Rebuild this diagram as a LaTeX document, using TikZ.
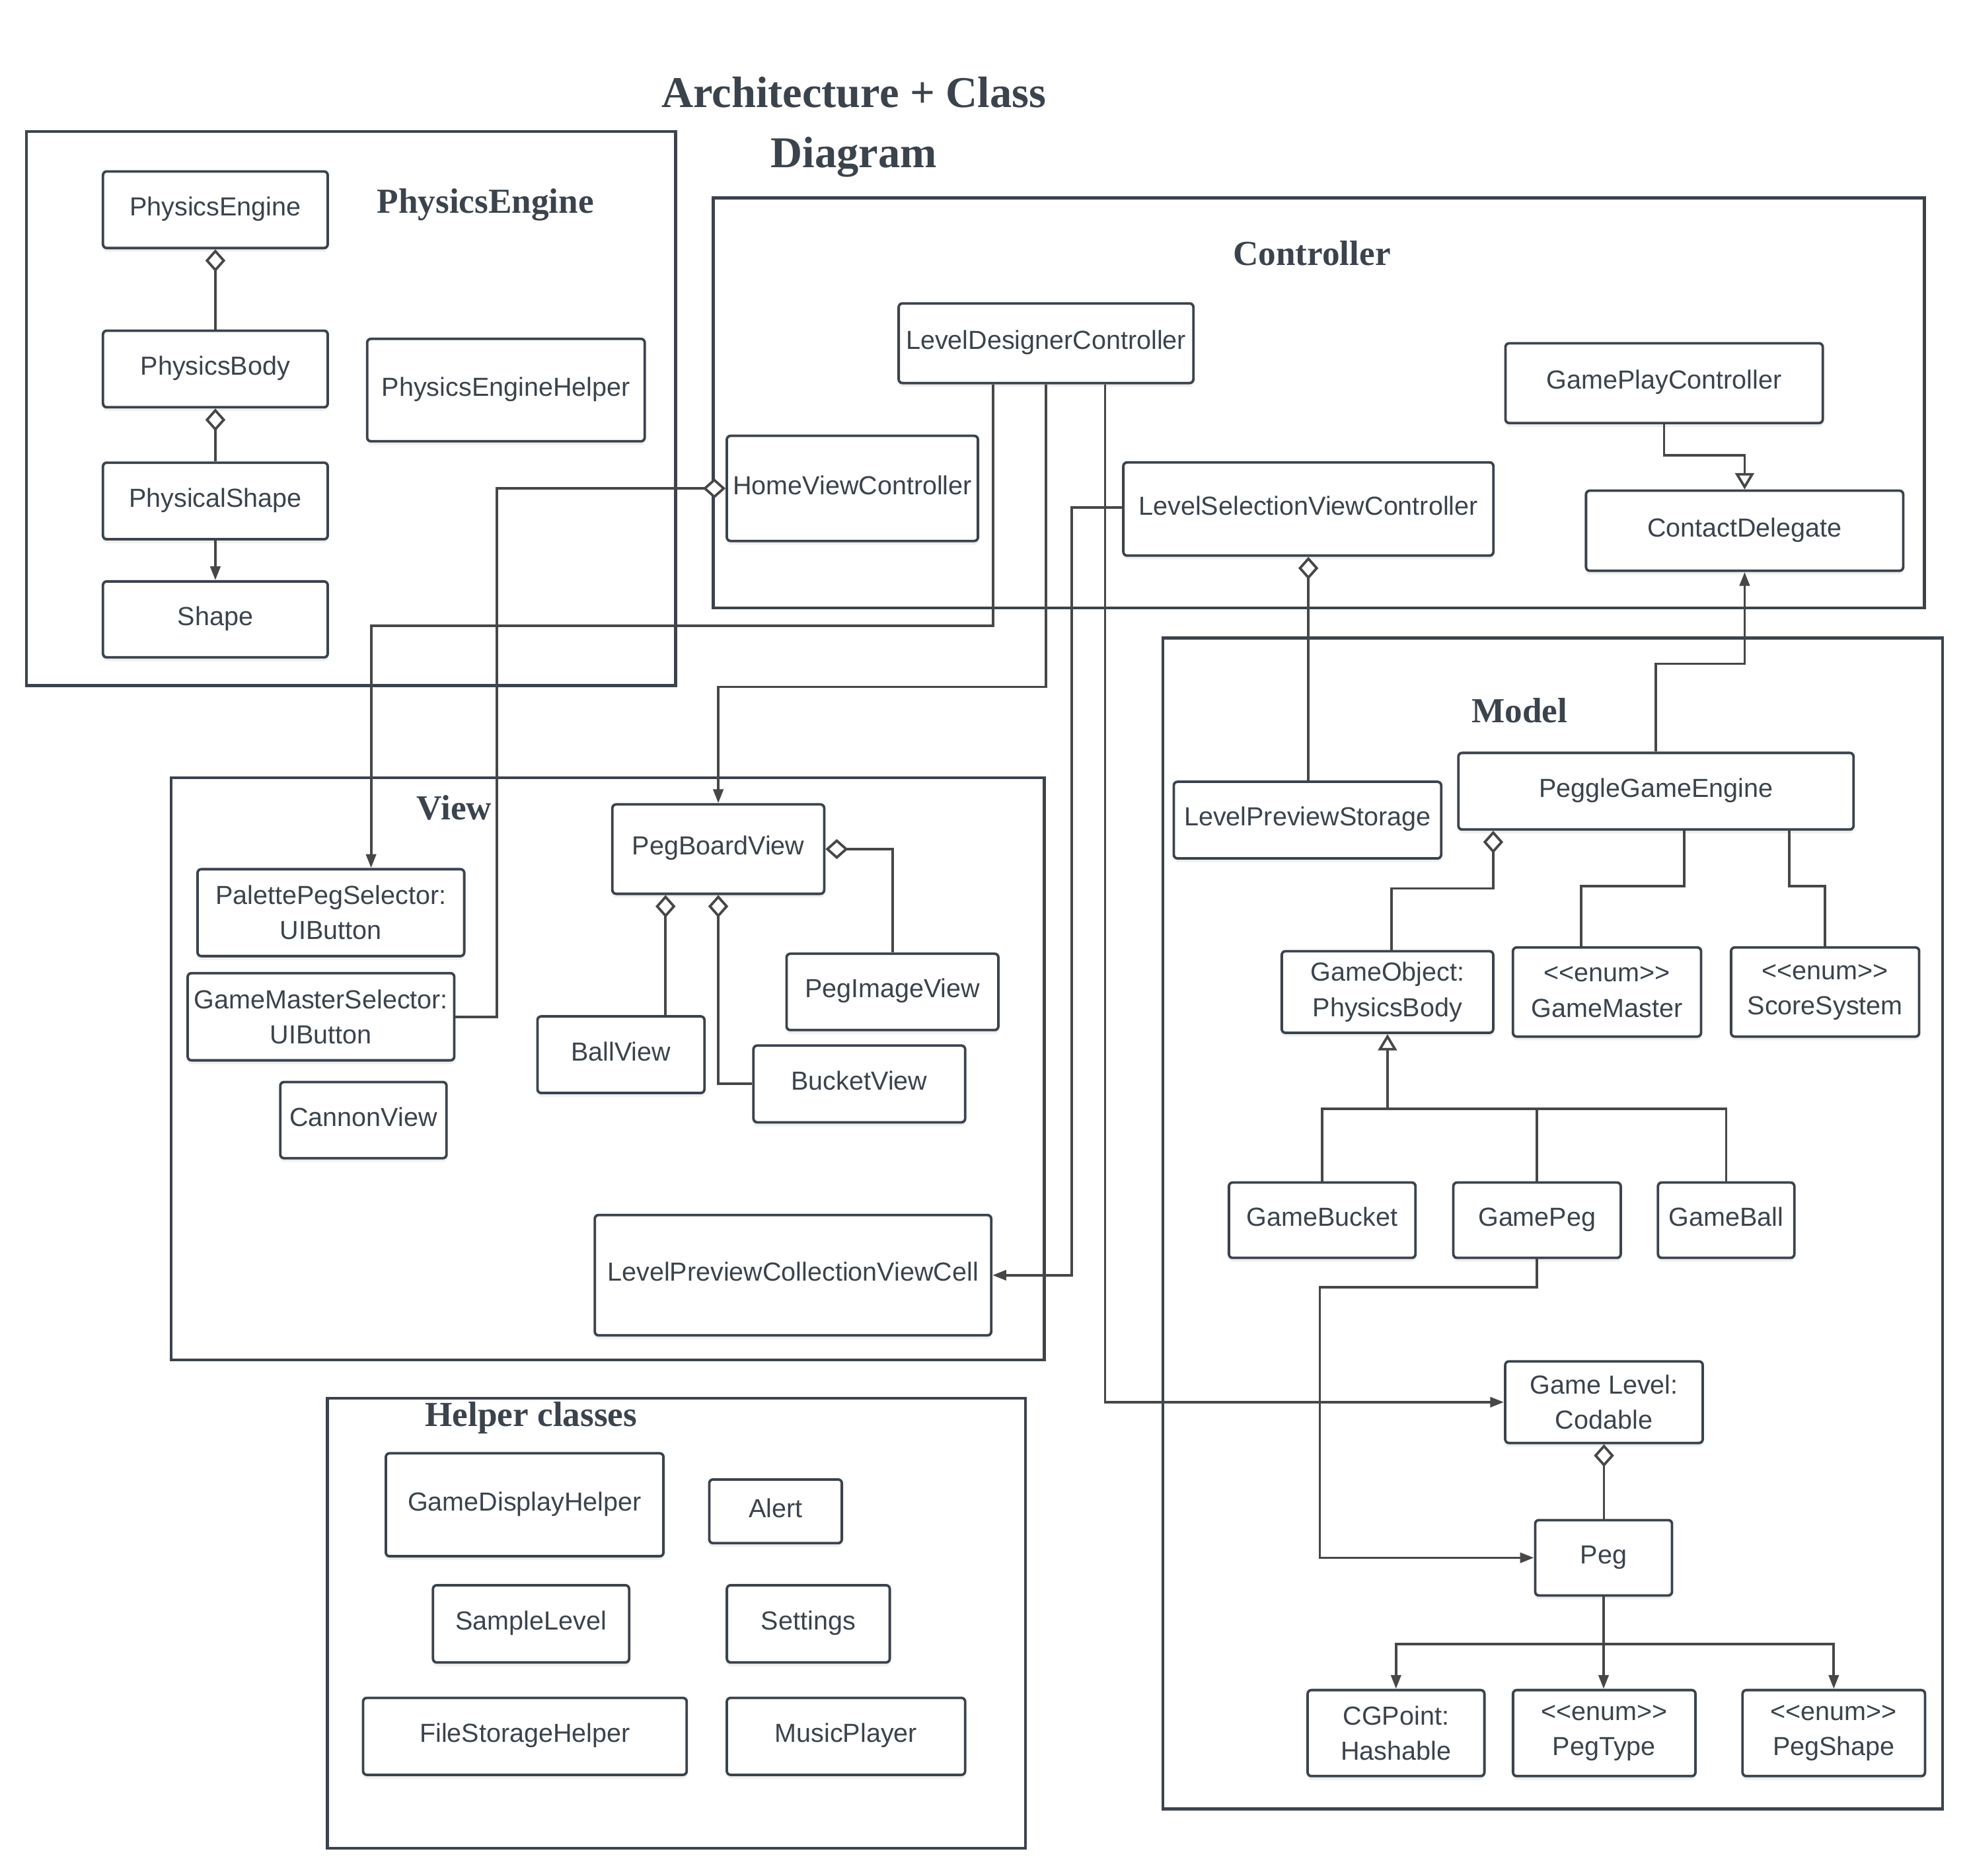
\documentclass[tikz,border=0pt]{standalone}
\usepackage{fontspec}
\setmainfont{Liberation Sans}
\newfontfamily\headfont{Liberation Serif}
\usetikzlibrary{arrows.meta,shadows}
\definecolor{ink}{HTML}{3B434D}
\definecolor{wirecol}{HTML}{474747}

\begin{document}
\begin{tikzpicture}[x=1pt,y=-1pt,
base/.style={
  draw=ink,
  line width=2pt,
  rounded corners=3pt,
  fill=white,
  text=ink,
  inner sep=2pt,
  align=center,
  font=\fontsize{20.8}{28}\selectfont,
  drop shadow={shadow xshift=0pt,shadow yshift=-3pt,opacity=0.12}},
cls/.style={base, text height=15pt, text depth=5.6pt},
clsm/.style={base},
pkg/.style={draw=ink, line width=2.3pt},
head/.style={text=ink, font=\headfont\bfseries\fontsize{28}{34}\selectfont},
wire/.style={draw=wirecol, line width=2pt},
agg/.style={wire, {Diamond[fill=white,length=18pt,width=16pt]}-},
dep/.style={wire, -{Triangle[length=11pt,width=8pt]}},
real/.style={wire, -{Triangle[fill=white,length=13pt,width=15pt]}}
]
\useasboundingbox (0,0) rectangle (1568,1493.3);

% packages
\draw[pkg] (21.1,104.8) rectangle (538.1,545.9);
\draw[pkg] (568,157.5) rectangle (1532.5,484.1);
\draw[pkg] (926.2,508) rectangle (1547,1440.4);
\draw[pkg] (136.2,619.3) rectangle (831.6,1083);
\draw[pkg] (260.7,1113.5) rectangle (816.6,1471.7);

\node[head, font=\headfont\bfseries\fontsize{35}{48}\selectfont, align=center]
  (title) at (680,101) {Architecture + Class\\Diagram};
\node[head] (phytitle) at (386.6,163) {PhysicsEngine};
\node[head] (ctltitle) at (1044.7,201.5) {Controller};
\node[head] (modtitle) at (1210,565.8) {Model};
\node[head] (viewtitle) at (361.7,643) {View};
\node[head] (helptitle) at (423,1129) {Helper classes};

% physics engine
\node[cls, minimum width=179, minimum height=61] (pe) at (171.5,167) {PhysicsEngine};
\node[cls, minimum width=179, minimum height=61] (pb) at (171.5,293.8) {PhysicsBody};
\node[cls, minimum width=179, minimum height=61] (phshape) at (171.5,398.9) {PhysicalShape};
\node[cls, minimum width=179, minimum height=60.5] (shp) at (171.5,493.2) {Shape};
\node[cls, minimum width=221, minimum height=81.6] (peh) at (402.9,310.6) {PhysicsEngineHelper};

% controller
\node[cls, minimum width=234.7, minimum height=63.4] (ldc) at (833,273.3) {LevelDesignerController};
\node[cls, minimum width=200, minimum height=83.7] (hvc) at (678.8,388.9) {HomeViewController};
\node[cls, minimum width=294.7, minimum height=74.2] (lsvc) at (1041.9,405.3) {LevelSelectionViewController};
\node[cls, minimum width=252.7, minimum height=63.5] (gpc) at (1325.2,305.1) {GamePlayController};
\node[cls, minimum width=252.6, minimum height=63.8] (cd) at (1389.3,422.6) {ContactDelegate};

% model
\node[cls, minimum width=213, minimum height=61] (lps) at (1041.2,653) {LevelPreviewStorage};
\node[cls, minimum width=314.7, minimum height=61] (pge) at (1318.7,630) {PeggleGameEngine};
\node[clsm, minimum width=168.4, minimum height=65] (gobj) at (1104.9,789.9) {GameObject:\\PhysicsBody};
\node[clsm, minimum width=149.8, minimum height=71] (gm) at (1279.7,789.9) {<{}<enum>{}>\\GameMaster};
\node[clsm, minimum width=149.8, minimum height=71] (ss) at (1453.4,789.9) {<{}<enum>{}>\\ScoreSystem};
\node[cls, minimum width=148.6, minimum height=60] (gbk) at (1052.9,971.6) {GameBucket};
\node[cls, minimum width=133.3, minimum height=60] (gpg) at (1224,971.6) {GamePeg};
\node[cls, minimum width=108.6, minimum height=60] (gbl) at (1374.6,971.6) {GameBall};
\node[clsm, minimum width=157.3, minimum height=65] (gl) at (1277.3,1116.5) {Game Level:\\Codable};
\node[cls, minimum width=109, minimum height=60] (peg) at (1277,1240.4) {Peg};
\node[clsm, minimum width=140.8, minimum height=68.5] (cgp) at (1111.7,1380) {CGPoint:\\Hashable};
\node[clsm, minimum width=145.3, minimum height=68.5] (pegtype) at (1277.5,1380) {<{}<enum>{}>\\PegType};
\node[clsm, minimum width=145.3, minimum height=68.5] (pegshape) at (1460.3,1380) {<{}<enum>{}>\\PegShape};

% view
\node[cls, minimum width=168.7, minimum height=71.2] (pbv) at (572,676.1) {PegBoardView};
\node[clsm, minimum width=212.4, minimum height=69.2] (pps) at (263.5,726.7) {PalettePegSelector:\\UIButton};
\node[clsm, minimum width=212.3, minimum height=69.4] (gms) at (255.6,809.6) {GameMasterSelector:\\UIButton};
\node[cls, minimum width=132.4, minimum height=60.7] (cnv) at (289.4,891.9) {CannonView};
\node[cls, minimum width=133, minimum height=61] (bv) at (494.5,839.8) {BallView};
\node[cls, minimum width=168.7, minimum height=60.8] (piv) at (710.7,789.8) {PegImageView};
\node[cls, minimum width=168.6, minimum height=61.1] (bkv) at (684.3,863.1) {BucketView};
\node[cls, minimum width=315.7, minimum height=95.8] (lpc) at (631.5,1015.4) {LevelPreviewCollectionViewCell};

% helper classes
\foreach \nm/\x/\y/\w/\h/\txt in {
  gdh/417.8/1198.2/221.1/82/GameDisplayHelper,
  alt/617.6/1203.4/105.6/50.7/Alert,
  slv/422.9/1293/156.2/61.5/SampleLevel,
  stg/643.7/1293/129.7/61.5/Settings,
  fsh/418/1382.6/257.7/61.3/FileStorageHelper,
  mpl/673.7/1382.6/189.8/61.3/MusicPlayer}
  \node[cls, minimum width=\w, minimum height=\h] (\nm) at (\x,\y) {\txt};

% links
\draw[agg] (pe.south) -- (pb.north);
\draw[agg] (pb.south) -- (phshape.north);
\draw[dep] (phshape.south) -- (shp.north);

\coordinate (b1) at (295.5,498.3);
\coordinate (b2) at (572,547);
\draw[agg] (hvc.west) -| ([xshift=33pt]gms.east) -- (gms.east);
\draw[dep] ([xshift=-42pt]ldc.south) |- (b1) -- (b1 |- pps.north);
\draw[dep] (ldc.south) |- (b2) -- (pbv.north);
\draw[dep] ([xshift=47pt]ldc.south) |- (gl.west);
\draw[dep] ([yshift=1pt]lsvc.west) -| ([xshift=63pt]lpc.east) -- (lpc.east);
\draw[agg] (lsvc.south) -- (lsvc.south |- lps.north);
\draw[real] (gpc.south) |- ([yshift=27pt]cd.north) -- (cd.north);
\draw[dep] (pge.north) |- ([yshift=-73pt]cd.south) -- (cd.south);

\draw[agg] ([xshift=-129.6pt]pge.south) |- ([xshift=3pt,yshift=49pt]gobj.north) -- ([xshift=3pt]gobj.north);
\draw[wire] ([xshift=22.4pt]pge.south) |- ([xshift=-20.4pt,yshift=48pt]gm.north) -- ([xshift=-20.4pt]gm.north);
\draw[wire] ([xshift=106.2pt]pge.south) |- ([yshift=48pt]ss.north) -- (ss.north);

\coordinate (inh) at ([yshift=-59.4pt]gobj.south);
\draw[real] (inh) -- (gobj.south);
\draw[wire] (gbk.north) |- (inh) -| (gbl.north);
\draw[wire] (gpg.north) -- (gpg.north |- inh);

\draw[dep] (gpg.south) -- ++(0,22.2) -| ([xshift=-170.5pt]peg.west) -- (peg.west);
\draw[agg] (gl.south) -- (gl.south |- peg.north);
\coordinate (fork) at ([yshift=-37.7pt]peg.south);
\draw[wire] (peg.south) -- (fork);
\draw[dep] (fork) -- (fork |- pegtype.north);
\draw[dep] (fork) -| (cgp.north);
\draw[dep] (fork) -| (pegshape.north);

\draw[agg] (pbv.east) -| (piv.north);
\draw[agg] ([xshift=-42pt]pbv.south) -- ([xshift=-42pt]pbv.south |- bv.north);
\draw[agg] (pbv.south) |- (bkv.west);
\end{tikzpicture}
\end{document}
